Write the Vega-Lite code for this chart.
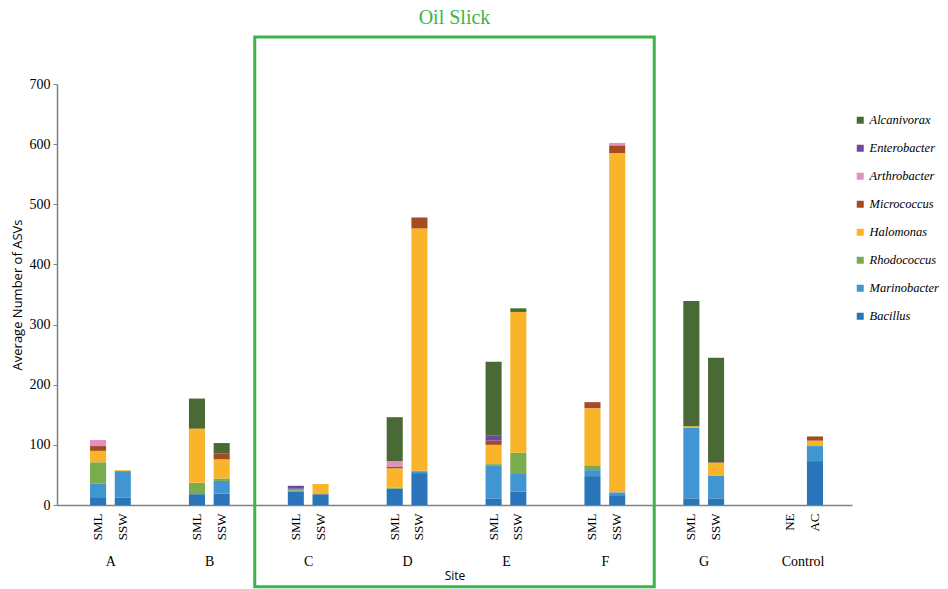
{
  "$schema": "https://vega.github.io/schema/vega-lite/v6.json",
  "width": 795,
  "height": 421,
  "autosize": "none",
  "padding": {"left": 57, "top": 84, "right": 96, "bottom": 84},
  "background": "white",
  "config": {"view": {"stroke": null}},
  "datasets": {
    "asv": [
      {"slot": "A|SML", "taxon": "Bacillus", "asvs": 13},
      {"slot": "A|SML", "taxon": "Marinobacter", "asvs": 23},
      {"slot": "A|SML", "taxon": "Rhodococcus", "asvs": 35},
      {"slot": "A|SML", "taxon": "Halomonas", "asvs": 19},
      {"slot": "A|SML", "taxon": "Micrococcus", "asvs": 8},
      {"slot": "A|SML", "taxon": "Arthrobacter", "asvs": 10},
      {"slot": "A|SSW", "taxon": "Bacillus", "asvs": 12},
      {"slot": "A|SSW", "taxon": "Marinobacter", "asvs": 43},
      {"slot": "A|SSW", "taxon": "Rhodococcus", "asvs": 2},
      {"slot": "A|SSW", "taxon": "Halomonas", "asvs": 1},
      {"slot": "B|SML", "taxon": "Bacillus", "asvs": 18},
      {"slot": "B|SML", "taxon": "Rhodococcus", "asvs": 19},
      {"slot": "B|SML", "taxon": "Halomonas", "asvs": 90},
      {"slot": "B|SML", "taxon": "Alcanivorax", "asvs": 50},
      {"slot": "B|SSW", "taxon": "Bacillus", "asvs": 19},
      {"slot": "B|SSW", "taxon": "Marinobacter", "asvs": 21},
      {"slot": "B|SSW", "taxon": "Rhodococcus", "asvs": 4},
      {"slot": "B|SSW", "taxon": "Halomonas", "asvs": 32},
      {"slot": "B|SSW", "taxon": "Micrococcus", "asvs": 10},
      {"slot": "B|SSW", "taxon": "Alcanivorax", "asvs": 17},
      {"slot": "C|SML", "taxon": "Bacillus", "asvs": 22},
      {"slot": "C|SML", "taxon": "Marinobacter", "asvs": 2},
      {"slot": "C|SML", "taxon": "Rhodococcus", "asvs": 3},
      {"slot": "C|SML", "taxon": "Enterobacter", "asvs": 5},
      {"slot": "C|SSW", "taxon": "Bacillus", "asvs": 18},
      {"slot": "C|SSW", "taxon": "Halomonas", "asvs": 17},
      {"slot": "D|SML", "taxon": "Bacillus", "asvs": 27},
      {"slot": "D|SML", "taxon": "Rhodococcus", "asvs": 2},
      {"slot": "D|SML", "taxon": "Halomonas", "asvs": 32},
      {"slot": "D|SML", "taxon": "Micrococcus", "asvs": 3},
      {"slot": "D|SML", "taxon": "Arthrobacter", "asvs": 9},
      {"slot": "D|SML", "taxon": "Alcanivorax", "asvs": 73},
      {"slot": "D|SSW", "taxon": "Bacillus", "asvs": 53},
      {"slot": "D|SSW", "taxon": "Marinobacter", "asvs": 2},
      {"slot": "D|SSW", "taxon": "Rhodococcus", "asvs": 2},
      {"slot": "D|SSW", "taxon": "Halomonas", "asvs": 403},
      {"slot": "D|SSW", "taxon": "Micrococcus", "asvs": 18},
      {"slot": "E|SML", "taxon": "Bacillus", "asvs": 11},
      {"slot": "E|SML", "taxon": "Marinobacter", "asvs": 54},
      {"slot": "E|SML", "taxon": "Rhodococcus", "asvs": 3},
      {"slot": "E|SML", "taxon": "Halomonas", "asvs": 32},
      {"slot": "E|SML", "taxon": "Micrococcus", "asvs": 7},
      {"slot": "E|SML", "taxon": "Enterobacter", "asvs": 9},
      {"slot": "E|SML", "taxon": "Alcanivorax", "asvs": 122},
      {"slot": "E|SSW", "taxon": "Bacillus", "asvs": 22},
      {"slot": "E|SSW", "taxon": "Marinobacter", "asvs": 31},
      {"slot": "E|SSW", "taxon": "Rhodococcus", "asvs": 34},
      {"slot": "E|SSW", "taxon": "Halomonas", "asvs": 234},
      {"slot": "E|SSW", "taxon": "Alcanivorax", "asvs": 6},
      {"slot": "F|SML", "taxon": "Bacillus", "asvs": 48},
      {"slot": "F|SML", "taxon": "Marinobacter", "asvs": 10},
      {"slot": "F|SML", "taxon": "Rhodococcus", "asvs": 8},
      {"slot": "F|SML", "taxon": "Halomonas", "asvs": 95},
      {"slot": "F|SML", "taxon": "Micrococcus", "asvs": 10},
      {"slot": "F|SSW", "taxon": "Bacillus", "asvs": 15},
      {"slot": "F|SSW", "taxon": "Marinobacter", "asvs": 6},
      {"slot": "F|SSW", "taxon": "Halomonas", "asvs": 564},
      {"slot": "F|SSW", "taxon": "Micrococcus", "asvs": 13},
      {"slot": "F|SSW", "taxon": "Arthrobacter", "asvs": 4},
      {"slot": "G|SML", "taxon": "Bacillus", "asvs": 11},
      {"slot": "G|SML", "taxon": "Marinobacter", "asvs": 118},
      {"slot": "G|SML", "taxon": "Halomonas", "asvs": 2},
      {"slot": "G|SML", "taxon": "Alcanivorax", "asvs": 208},
      {"slot": "G|SSW", "taxon": "Bacillus", "asvs": 11},
      {"slot": "G|SSW", "taxon": "Marinobacter", "asvs": 38},
      {"slot": "G|SSW", "taxon": "Halomonas", "asvs": 21},
      {"slot": "G|SSW", "taxon": "Micrococcus", "asvs": 1},
      {"slot": "G|SSW", "taxon": "Alcanivorax", "asvs": 174},
      {"slot": "Control|NE", "taxon": "Bacillus", "asvs": 0},
      {"slot": "Control|AC", "taxon": "Bacillus", "asvs": 73},
      {"slot": "Control|AC", "taxon": "Marinobacter", "asvs": 25},
      {"slot": "Control|AC", "taxon": "Halomonas", "asvs": 9},
      {"slot": "Control|AC", "taxon": "Micrococcus", "asvs": 7}
    ]
  },
  "layer": [
    {
      "data": {"values": [{}]},
      "mark": {"type": "rect", "filled": false, "stroke": "#3ab54a", "strokeWidth": 3},
      "encoding": {
        "x": {
          "datum": 1.96,
          "type": "quantitative",
          "scale": {"domain": [-0.04, 8], "nice": false, "zero": false},
          "axis": {
            "orient": "bottom",
            "offset": 45,
            "values": [0.5, 1.5, 2.5, 3.5, 4.5, 5.5, 6.5, 7.5],
            "labelExpr": "['A','B','C','D','E','F','G','Control'][floor(datum.value)]",
            "domain": false,
            "ticks": false,
            "grid": false,
            "labelFont": "Liberation Serif",
            "labelFontSize": 14,
            "labelColor": "#000000",
            "labelPadding": 4,
            "labelOverlap": false,
            "labelFlush": false,
            "title": "Site",
            "titleFont": "Open Sans",
            "titleFontSize": 12,
            "titleFontWeight": "normal",
            "titleColor": "#000000",
            "titlePadding": 2
          }
        },
        "x2": {"datum": 6.0},
        "y": {"datum": 778, "type": "quantitative"},
        "y2": {"datum": -136}
      }
    },
    {
      "data": {"values": [{"label": "Oil Slick"}]},
      "mark": {"type": "text", "font": "Liberation Serif", "fontSize": 20, "color": "#3ab54a", "baseline": "middle", "align": "center"},
      "encoding": {
        "x": {"datum": 3.98, "type": "quantitative", "scale": {"domain": [-0.04, 8], "nice": false, "zero": false}, "axis": null},
        "y": {"datum": 810, "type": "quantitative"},
        "text": {"field": "label"}
      }
    },
    {
      "data": {"name": "asv"},
      "transform": [
        {"calculate": "indexof(['Bacillus','Marinobacter','Rhodococcus','Halomonas','Micrococcus','Arthrobacter','Enterobacter','Alcanivorax'], datum.taxon)", "as": "stackRank"}
      ],
      "mark": {"type": "bar"},
      "encoding": {
        "x": {
          "field": "slot",
          "type": "nominal",
          "scale": {
            "domain": ["A|", "A|SML", "A|SSW", "A||", "B|", "B|SML", "B|SSW", "B||", "C|", "C|SML", "C|SSW", "C||", "D|", "D|SML", "D|SSW", "D||", "E|", "E|SML", "E|SSW", "E||", "F|", "F|SML", "F|SSW", "F||", "G|", "G|SML", "G|SSW", "G||", "Control|", "Control|NE", "Control|AC", "Control||"],
            "paddingInner": 0.35,
            "paddingOuter": 0.255,
            "align": 0.66
          },
          "axis": {
            "orient": "bottom",
            "title": null,
            "labelExpr": "split(datum.value, '|')[1]",
            "labelAngle": 270,
            "ticks": false,
            "domainColor": "#808080",
            "domainWidth": 1.5,
            "labelFont": "Liberation Serif",
            "labelFontSize": 13,
            "labelColor": "#000000",
            "labelPadding": 8,
            "labelOverlap": false
          }
        },
        "y": {
          "field": "asvs",
          "type": "quantitative",
          "stack": "zero",
          "scale": {"domain": [0, 700], "nice": false},
          "axis": {
            "title": "Average Number of ASVs",
            "values": [0, 100, 200, 300, 400, 500, 600, 700],
            "grid": false,
            "domainColor": "#808080",
            "domainWidth": 1.5,
            "tickColor": "#808080",
            "tickSize": 4,
            "labelFont": "Liberation Serif",
            "labelFontSize": 14,
            "labelColor": "#000000",
            "labelPadding": 3,
            "titleFont": "Open Sans",
            "titleFontSize": 13,
            "titleFontWeight": "normal",
            "titleColor": "#000000",
            "titlePadding": 5
          }
        },
        "color": {
          "field": "taxon",
          "type": "nominal",
          "scale": {
            "domain": ["Alcanivorax", "Enterobacter", "Arthrobacter", "Micrococcus", "Halomonas", "Rhodococcus", "Marinobacter", "Bacillus"],
            "range": ["#4a6a35", "#6b4a9e", "#e48fc0", "#a44b20", "#f9b42a", "#78ac4c", "#4196d2", "#2a74b9"]
          },
          "legend": {
            "title": null,
            "orient": "none",
            "legendX": 797,
            "legendY": 30,
            "padding": 0,
            "symbolType": "square",
            "symbolSize": 49,
            "symbolStrokeWidth": 0,
            "labelFont": "Liberation Serif",
            "labelFontStyle": "italic",
            "labelFontSize": 12.5,
            "labelColor": "#000000",
            "labelOffset": 3,
            "labelLimit": 90,
            "rowPadding": 15
          }
        },
        "order": {"field": "stackRank", "type": "quantitative", "sort": "ascending"}
      }
    }
  ],
  "resolve": {"scale": {"x": "independent"}}
}
